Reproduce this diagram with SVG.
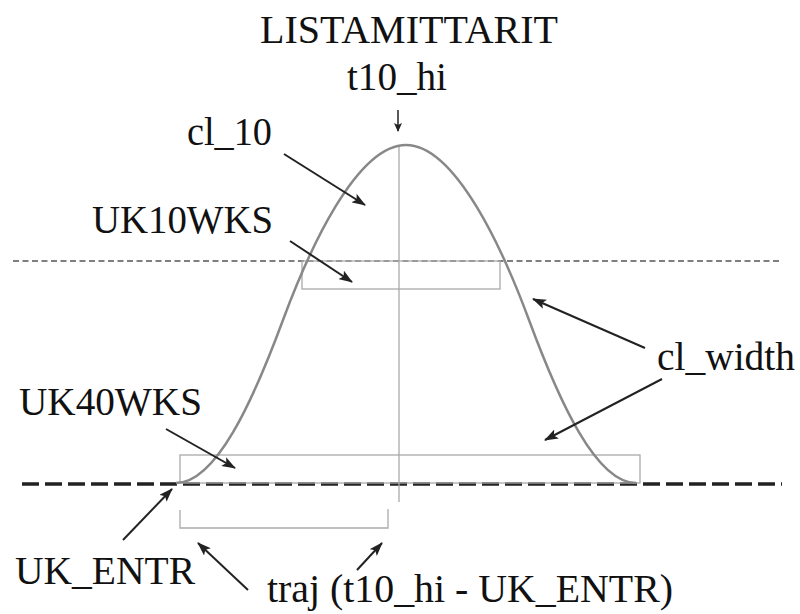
<svg xmlns="http://www.w3.org/2000/svg" width="800" height="614" viewBox="0 0 800 614">
<style>
  text { font-family: "Liberation Serif", "Times New Roman", serif; font-size: 40px; fill: #111; }
  .arrow { stroke: #222; stroke-width: 2; fill: none; marker-end: url(#ah); }
  .guide { stroke: #aaa; stroke-width: 1.3; fill: none; }
</style>
<defs>
  <marker id="ah" markerUnits="userSpaceOnUse" markerWidth="14" markerHeight="10" refX="13" refY="5" orient="auto">
    <path d="M0,0 L14,5 L0,10 L3,5 Z" fill="#222"/>
  </marker>
  <marker id="ahs" markerUnits="userSpaceOnUse" markerWidth="9" markerHeight="8" refX="8" refY="4" orient="auto">
    <path d="M0,0 L9,4 L0,8 L2,4 Z" fill="#222"/>
  </marker>
</defs>
<rect width="800" height="614" fill="#fff"/>

<g id="levels">
  <line x1="13" y1="261" x2="780" y2="261" stroke="#555" stroke-width="1.6" stroke-dasharray="6,3.5"/>
  <line x1="22" y1="484" x2="782" y2="484" stroke="#222" stroke-width="3.5" stroke-dasharray="17,6"/>
</g>

<g id="boxes">
  <line class="guide" x1="399" y1="145" x2="399" y2="502"/>
  <rect id="uk10box" class="guide" x="302" y="261" width="198" height="28"/>
  <rect id="uk40box" class="guide" x="180" y="455" width="460" height="28"/>
  <path id="trajbracket" class="guide" d="M180,510 V528 H388 V509"/>
</g>

<g id="curve">
  <path d="M176,483 C216,483 253,401 283,320 C308,252.5 356,145 406,145 C456,145 504,252.5 529,320 C559,401 596,483 636,483" fill="none" stroke="#888" stroke-width="2.5"/>
</g>

<g id="labels">
  <text id="title" x="260" y="43" textLength="298" lengthAdjust="spacingAndGlyphs">LISTAMITTARIT</text>
  <text id="t10hi" x="347" y="90" textLength="100" lengthAdjust="spacingAndGlyphs">t10_hi</text>
  <text id="cl10" x="187" y="145" textLength="85" lengthAdjust="spacingAndGlyphs">cl_10</text>
  <text id="uk10" x="92" y="233" textLength="181" lengthAdjust="spacingAndGlyphs">UK10WKS</text>
  <text id="clwidth" x="657" y="370" textLength="138" lengthAdjust="spacingAndGlyphs">cl_width</text>
  <text id="uk40" x="19" y="415" textLength="183" lengthAdjust="spacingAndGlyphs">UK40WKS</text>
  <text id="ukentr" x="15" y="584" textLength="180" lengthAdjust="spacingAndGlyphs">UK_ENTR</text>
  <text id="traj" x="267" y="602" textLength="406" lengthAdjust="spacingAndGlyphs">traj (t10_hi - UK_ENTR)</text>
</g>

<g id="connectors">
  <line x1="398" y1="110" x2="398" y2="131" stroke="#222" stroke-width="1.5" marker-end="url(#ahs)"/>
  <line class="arrow" x1="284" y1="154" x2="365" y2="205"/>
  <line class="arrow" x1="290" y1="241" x2="352" y2="282"/>
  <line class="arrow" x1="645" y1="348" x2="533" y2="299"/>
  <line class="arrow" x1="662" y1="379" x2="545" y2="440"/>
  <line class="arrow" x1="166" y1="429" x2="235" y2="468"/>
  <line class="arrow" x1="123" y1="540" x2="172" y2="489"/>
  <line class="arrow" x1="248" y1="590" x2="198" y2="543"/>
  <line class="arrow" x1="357" y1="570" x2="382" y2="543"/>
</g>
</svg>
